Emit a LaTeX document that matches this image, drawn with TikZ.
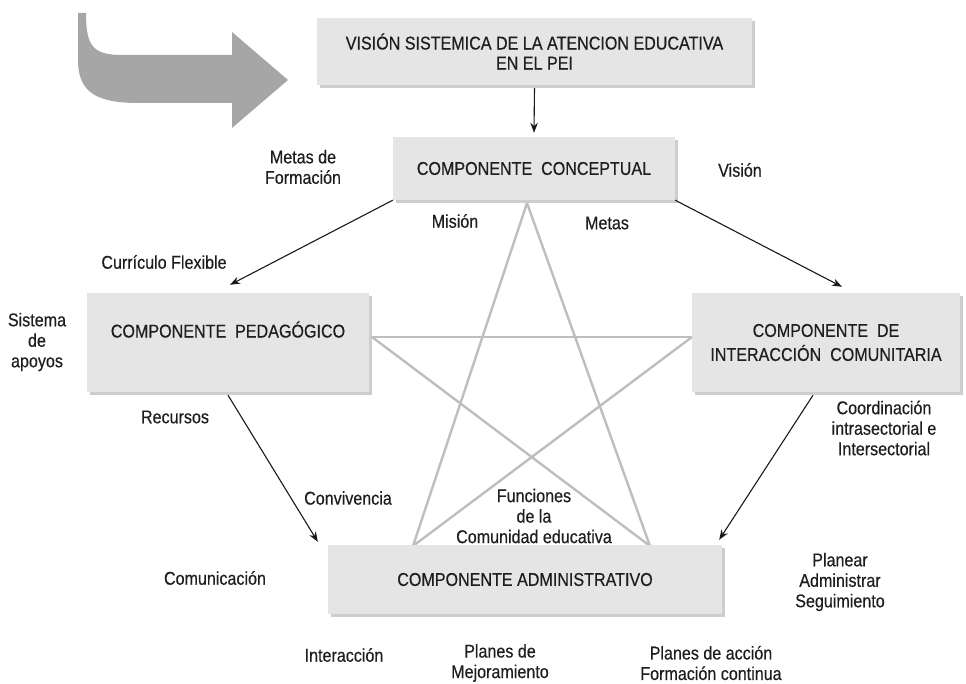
\documentclass[tikz,border=0pt]{standalone}
\usepackage{fontspec}
\setmainfont{Liberation Sans}[FakeStretch=0.87,FakeBold=0.4]
\usetikzlibrary{arrows.meta,shadows}
\definecolor{boxgray}{HTML}{E5E5E5}
\definecolor{shadowgray}{HTML}{CDCDCD}
\definecolor{stargray}{HTML}{BEBEBE}
\definecolor{bigarrow}{HTML}{A6A6A6}
\definecolor{textcol}{HTML}{1E1E1E}
\tikzset{
  box/.style={fill=boxgray, inner sep=0pt, align=center, text=textcol,
    font=\fontsize{18.5}{20}\selectfont,
    general shadow={shadow xshift=3pt, shadow yshift=-3pt, fill=shadowgray}},
  lbl/.style={inner sep=0pt, align=center, text=textcol, font=\fontsize{18.5}{20.5}\selectfont},
  arr/.style={draw=black!90, line width=1.1pt, -{Stealth[length=10pt,width=7.5pt]}},
  starline/.style={draw=stargray, line width=2.4pt},
}
\begin{document}
\begin{tikzpicture}[x=1pt,y=-1pt]
\useasboundingbox (0,0) rectangle (966,684);
% big curved arrow
\fill[bigarrow] (78,13) -- (86,13) .. controls (86,45) and (92,55) .. (122,55)
  -- (232,55) -- (232,32) -- (288,80) -- (232,128) -- (232,103) -- (140,103)
  .. controls (100,103) and (78,95) .. (78,60) -- cycle;
% star vertices
\coordinate (sA) at (527,203);
\coordinate (sB) at (372,337);
\coordinate (sC) at (692,337);
\coordinate (sD) at (413,546);
\coordinate (sE) at (650,546);
\draw[starline] (sA) -- (sD);
\draw[starline] (sA) -- (sE);
\draw[starline] (sB) -- (sC);
\draw[starline] (sB) -- (sE);
\draw[starline] (sC) -- (sD);
% boxes
\node[box, minimum width=435pt, minimum height=67pt] (top) at (534.5,51.5)
  {VISIÓN SISTEMICA DE LA ATENCION EDUCATIVA\\EN EL PEI};
\node[box, minimum width=282pt, minimum height=63pt] (concept) at (534,168.5)
  {COMPONENTE\ \ CONCEPTUAL};
\node[box, minimum width=282pt, minimum height=99pt] (ped) at (228,342.5)
  {COMPONENTE\ \ PEDAGÓGICO\\[6pt]};
\node[box, minimum width=268pt, minimum height=99pt, font=\fontsize{18.5}{24}\selectfont] (inter) at (826,342.5)
  {COMPONENTE\ \ DE\\INTERACCIÓN\ \ COMUNITARIA};
\node[box, minimum width=394pt, minimum height=69pt] (admin) at (525,579.5)
  {COMPONENTE ADMINISTRATIVO};
% arrows
\draw[arr] ([yshift=-3pt]top.south) -- ([yshift=4pt]concept.north);
\draw[arr] (concept.south west) -- ([xshift=2pt,yshift=8pt]ped.north);
\draw[arr] (concept.south east) -- ([xshift=16pt,yshift=6pt]inter.north);
\draw[arr] ([yshift=-3pt]ped.south) -- ([xshift=-10pt,yshift=3pt]admin.north west);
\draw[arr] ([xshift=-13pt,yshift=-3pt]inter.south) -- ([xshift=-3pt,yshift=5pt]admin.north east);
% labels
\node[lbl] (l1) at (303,167) {Metas de\\Formación};
\node[lbl] (l2) at (740,170) {Visión};
\node[lbl] (l3) at (455,221) {Misión};
\node[lbl] (l4) at (607,223) {Metas};
\node[lbl] (l5) at (164,262) {Currículo Flexible};
\node[lbl] (l6) at (37,342) {Sistema\\de\\apoyos};
\node[lbl] (l7) at (175,417) {Recursos};
\node[lbl] (l8) at (884,428) {Coordinación\\intrasectorial e\\Intersectorial};
\node[lbl] (l9) at (348,498) {Convivencia};
\node[lbl] (l10) at (534,516) {Funciones\\de la\\Comunidad educativa};
\node[lbl] (l11) at (215,578) {Comunicación};
\node[lbl] (l12) at (840,582) {Planear\\Administrar\\Seguimiento};
\node[lbl] (l13) at (344,655) {Interacción};
\node[lbl] (l14) at (500,663) {Planes de\\Mejoramiento};
\node[lbl] (l15) at (711,663) {Planes de acción\\Formación continua};
\end{tikzpicture}
\end{document}
